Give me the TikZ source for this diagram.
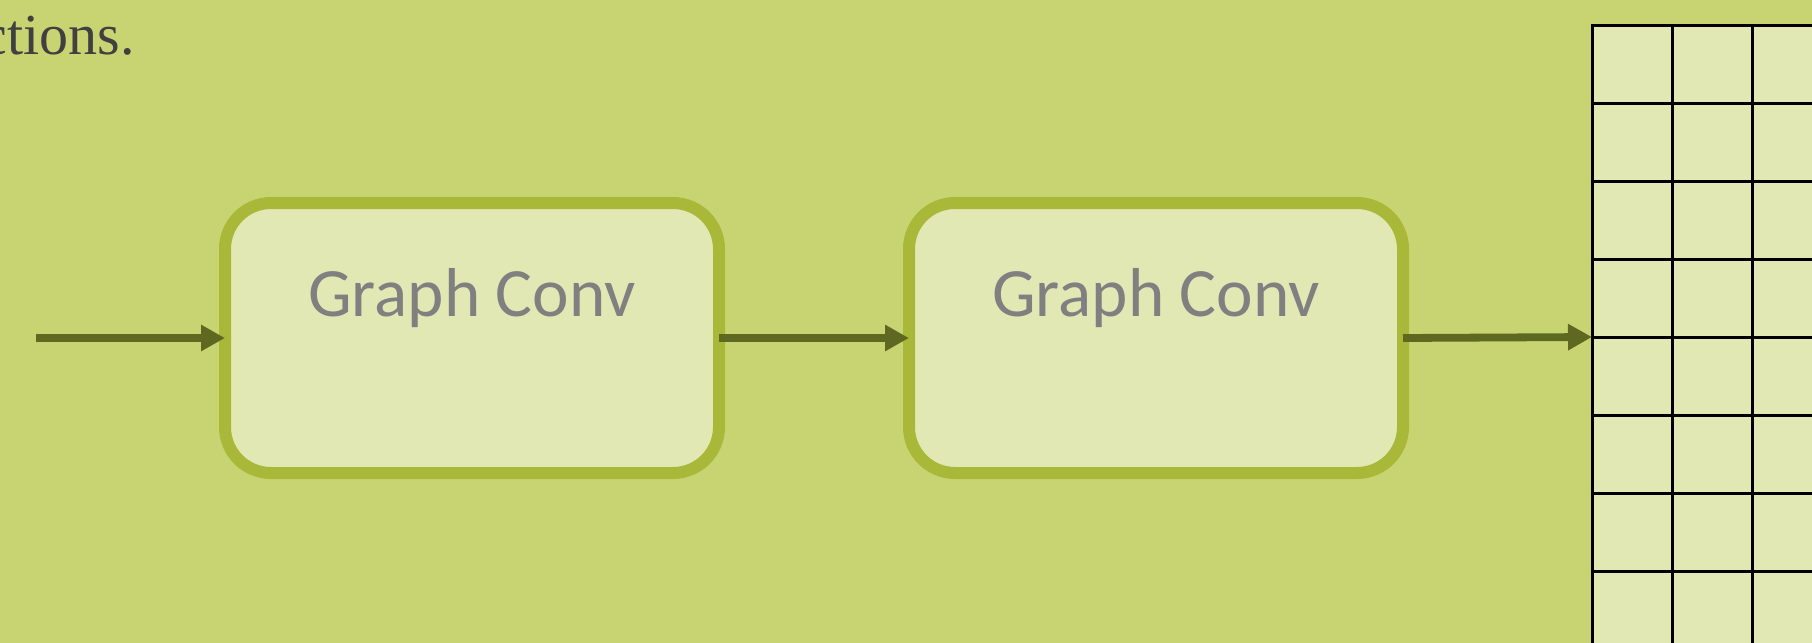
\documentclass[tikz,border=0pt]{standalone}
\usepackage{fontspec}
\setmainfont{Liberation Serif}
\newfontfamily\carlito{Carlito}
\usetikzlibrary{arrows.meta}
\definecolor{bgc}{HTML}{C8D472}
\definecolor{boxfill}{HTML}{E1E8B3}
\definecolor{boxline}{HTML}{A9B838}
\definecolor{arrowc}{HTML}{5E6821}
\definecolor{labelgray}{HTML}{808080}
\definecolor{toptext}{HTML}{404040}
\begin{document}
\begin{tikzpicture}[x=0.5pt,y=-0.5pt,
  gbox/.style={draw=boxline, fill=boxfill, line width=6pt, rounded corners=23pt,
    minimum width=247pt, minimum height=135pt, inner sep=0pt, outer sep=0pt,
    font=\carlito\fontsize{34.6}{40}\selectfont, text=labelgray,
    text height=12pt, text depth=33.4pt},
  flow/.style={draw=arrowc, line width=3.9pt, -{Triangle[length=12pt,width=12.5pt]}},
  gridline/.style={draw=black, line width=1.5pt}]
\useasboundingbox (0,0) rectangle (1812,643);
\clip (0,0) rectangle (1812,643);
\fill[bgc] (0,0) rectangle (1812,643);
\node[anchor=base east, inner sep=0pt, text=toptext, font=\fontsize{29}{34}\selectfont] (cap) at (135,54) {ctions.};
\node[gbox] (b1) at (472,338) {Graph Conv};
\node[gbox] (b2) at (1156,338) {Graph Conv};
\node[gridline, fill=boxfill, minimum width=120pt, minimum height=312pt, anchor=north west, inner sep=0pt, outer sep=0pt] (grid) at (1592,25) {};
\foreach \x in {1672,1752} \draw[gridline] (\x,25) -- (\x,649);
\foreach \y in {103,181,259,337,415,493,571} \draw[gridline] (1592,\y) -- (1832,\y);
\coordinate (in) at (36,338);
\draw[flow] (in) -- (b1.west);
\draw[flow] (b1.east) -- (b2.west);
\draw[flow] (b2.east) -- (grid.west);
\end{tikzpicture}
\end{document}
